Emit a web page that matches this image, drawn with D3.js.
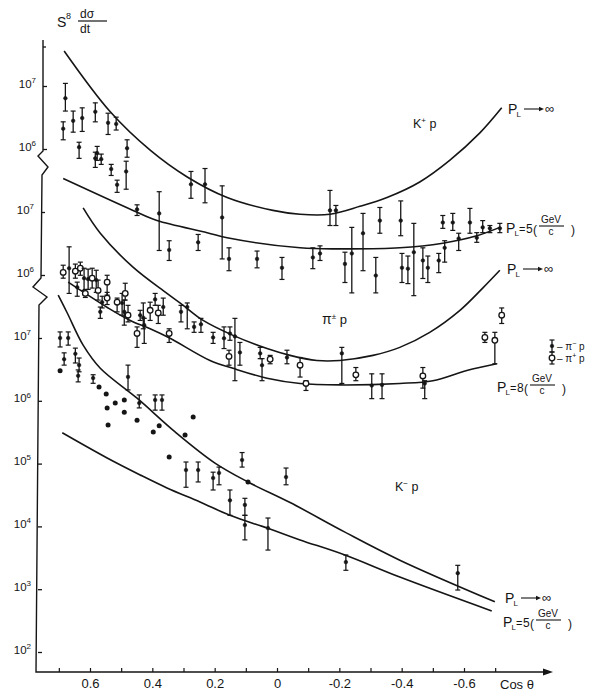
<!DOCTYPE html>
<html><head><meta charset="utf-8">
<script src="https://cdn.jsdelivr.net/npm/d3@7"></script>
<style>
body{margin:0;background:#fff;}
svg{display:block;font-family:"Liberation Sans",Arial,sans-serif;}
</style></head><body>
<svg id="chart" width="592" height="696"></svg>
<script>
// ---------- DATA (cos theta, S^8 dsigma/dt) ----------
const xMinorTicks = [0.7,0.6,0.5,0.4,0.3,0.2,0.1,0,-0.1,-0.2,-0.3,-0.4,-0.5,-0.6,-0.7];
const xTicks = [0.6,0.4,0.2,0,-0.2,-0.4,-0.6];
const xTickLabels = ["0.6","0.4","0.2","0","-0.2","-0.4","-0.6"];
const topTicks = [1e7,1e6];
const midTicks = [1e7,1e6];
const botTicks = [1e7,1e6,1e5,1e4,1e3,1e2];

// K+ p panel
const kpCurveInf = [[0.683,3.6e7],[0.535,3.9e6],[0.407,9.6e5],[0.288,3.6e5],[0.160,1.7e5],[0.013,1.06e5],[-0.074,9.2e4],[-0.170,9.2e4],[-0.266,1.23e5],[-0.353,1.7e5],[-0.458,3.0e5],[-0.554,6.6e5],[-0.651,1.8e6],[-0.721,4.5e6]];
const kpCurve5 = [[0.686,3.4e5],[0.462,1.06e5],[0.385,7.3e4],[0.224,4.7e4],[0.160,3.9e4],[-0.074,2.7e4],[-0.202,2.6e4],[-0.394,2.7e4],[-0.532,3.2e4],[-0.641,4.2e4],[-0.715,5.7e4]];
// [cos, value, low, high]
const kpData = [
[0.679,6.4e6,4.0e6,1.1e7],[0.686,2.1e6,1.4e6,2.7e6],[0.654,2.8e6,1.85e6,4.0e6],[0.625,3.1e6,1.9e6,4.5e6],
[0.583,3.9e6,2.7e6,5.4e6],[0.542,2.6e6,1.7e6,3.7e6],[0.516,2.5e6,2.0e6,3.2e6],[0.635,1.07e6,7.1e5,1.28e6],
[0.583,7.1e5,5.1e5,8.9e5],[0.577,8.6e5,6.6e5,1.1e6],[0.564,6.9e5,5.7e5,8.3e5],[0.481,1.03e6,7.4e5,1.4e6],
[0.532,4.8e5,3.8e5,5.7e5],[0.484,4.4e5,2.3e5,6.4e5],[0.513,2.7e5,2.05e5,3.2e5],[0.276,2.75e5,1.65e5,4.4e5],
[0.231,2.75e5,1.4e5,4.9e5],[0.176,8.2e4,1.8e4,2.6e5],[0.449,1.1e5,8.8e4,1.3e5],[0.378,9.5e4,2.45e4,2.1e5],
[0.346,2.5e4,1.7e4,3.5e4],[0.253,3.3e4,2.45e4,4.4e4],[0.154,1.8e4,1.17e4,2.7e4],[0.064,1.8e4,1.3e4,2.4e4],
[-0.016,1.3e4,8.5e3,1.9e4],[-0.115,1.9e4,1.26e4,2.7e4],[-0.138,2.2e4,1.7e4,2.9e4],[-0.170,1.06e5,6.1e4,2.2e5],
[-0.189,1.06e5,6.1e4,1.27e5],[-0.218,1.5e4,7.6e3,2.3e4],[-0.240,2.2e4,5.2e3,5.7e4],[-0.276,4.6e4,1.17e4,9.5e4],
[-0.317,9.8e3,5.2e3,1.9e4],[-0.330,7.3e4,4.6e4,1.18e5],[-0.397,7.3e4,4.2e4,1.5e5],[-0.401,1.3e4,7.6e3,2.2e4],
[-0.420,1.26e4,7.3e3,2.0e4],[-0.439,2.3e4,4.7e3,6.6e4],[-0.468,1.7e4,8.8e3,2.7e4],[-0.484,1.3e4,7.6e3,2.0e4],
[-0.519,1.7e4,1.09e4,2.2e4],[-0.538,2.7e4,1.6e4,3.5e4],[-0.532,6.8e4,5.5e4,8.8e4],[-0.564,6.8e4,5.1e4,9.5e4],
[-0.583,3.8e4,2.45e4,4.6e4],[-0.619,6.8e4,4.6e4,1.14e5],[-0.641,3.9e4,3.3e4,4.7e4],[-0.660,5.7e4,4.7e4,7.3e4],
[-0.683,5.5e4,4.7e4,6.1e4],[-0.715,5.5e4,4.7e4,6.6e4]];

// pi+- p panel
const piCurveInf = [[0.622,1.16e7],[0.567,4.6e6],[0.462,1.33e6],[0.353,5.1e5],[0.301,3.3e5],[0.237,1.9e5],[0.141,1.1e5],[0.032,6.8e4],[-0.042,5.3e4],[-0.128,4.4e4],[-0.202,4.4e4],[-0.308,5.3e4],[-0.394,7.1e4],[-0.490,1.23e5],[-0.587,2.75e5],[-0.660,6.2e5],[-0.715,1.19e6]];
const piCurve8 = [[0.670,7.7e5],[0.615,5.1e5],[0.542,3.0e5],[0.471,1.9e5],[0.407,1.4e5],[0.343,9.9e4],[0.215,4.4e4],[0.141,3.3e4],[0.032,2.3e4],[-0.074,1.9e4],[-0.202,1.8e4],[-0.394,1.9e4],[-0.500,2.1e4],[-0.609,3.05e4],[-0.705,3.9e4]];
// [cos, value, low, high, type]  m = pi- p, p = pi+ p
const piData = [
[0.686,1.1e6,8.9e5,1.43e6,"p"],[0.667,1.28e6,5.1e5,2.8e6,"m"],[0.647,1.15e6,8.9e5,1.49e6,"p"],[0.631,1.28e6,9.9e5,1.6e6,"p"],
[0.619,8.9e5,5.7e5,1.28e6,"m"],[0.606,8.6e5,5.9e5,1.24e6,"m"],[0.593,8.9e5,6.2e5,1.28e6,"p"],[0.580,8.3e5,5.3e5,1.19e6,"m"],
[0.615,5.1e5,4.4e5,5.9e5,"p"],[0.641,6.4e5,4.6e5,7.7e5,"m"],[0.574,5.7e5,4.0e5,8.3e5,"p"],[0.545,7.7e5,4.8e5,9.9e5,"p"],
[0.561,3.7e5,3.0e5,4.6e5,"m"],[0.567,2.6e5,2.05e5,3.1e5,"m"],[0.545,4.3e5,3.4e5,5.3e5,"p"],[0.513,3.7e5,2.6e5,4.3e5,"p"],
[0.497,3.6e5,2.3e5,5.1e5,"m"],[0.487,5.1e5,4.0e5,7.4e5,"p"],[0.490,2.6e5,1.6e5,4.0e5,"m"],[0.478,2.3e5,1.8e5,3.3e5,"p"],
[0.439,2.3e5,1.9e5,2.75e5,"m"],[0.429,2.1e5,1.4e5,3.6e5,"m"],[0.449,1.18e5,7.1e4,1.5e5,"p"],[0.426,1.6e5,8.2e4,2.05e5,"m"],
[0.407,2.75e5,1.9e5,3.7e5,"p"],[0.391,4.1e5,3.3e5,5.1e5,"m"],[0.381,2.5e5,1.7e5,3.3e5,"p"],[0.346,1.18e5,8.5e4,1.4e5,"p"],
[0.365,3.1e5,2.3e5,4.3e5,"m"],[0.308,2.6e5,1.8e5,3.3e5,"m"],[0.288,3.1e5,1.4e5,3.6e5,"m"],[0.266,1.5e5,1.23e5,1.8e5,"m"],
[0.244,1.65e5,1.23e5,2.05e5,"m"],[0.205,1.02e5,8.2e4,1.23e5,"m"],[0.170,9.9e4,6.8e4,1.5e5,"m"],[0.151,1.18e5,9.2e4,1.5e5,"m"],
[0.135,1.06e5,2.1e4,2.05e5,"m"],[0.154,5.1e4,3.7e4,6.4e4,"p"],[0.119,5.9e4,3.7e4,8.5e4,"m"],[0.054,5.7e4,4.7e4,7.1e4,"m"],
[0.048,3.7e4,2.1e4,4.7e4,"m"],[0.022,4.6e4,3.9e4,5.3e4,"p"],[-0.032,4.9e4,3.9e4,6.4e4,"m"],[-0.074,3.7e4,2.4e4,4.9e4,"p"],
[-0.093,1.9e4,1.47e4,2.1e4,"p"],[-0.208,5.7e4,1.9e4,7.1e4,"m"],[-0.253,2.6e4,2.1e4,3.4e4,"p"],[-0.304,1.76e4,1.09e4,2.7e4,"m"],
[-0.337,1.8e4,1.09e4,2.7e4,"m"],[-0.468,2.5e4,1.6e4,3.4e4,"p"],[-0.474,1.9e4,1.09e4,2.1e4,"m"],[-0.667,1.02e5,8.5e4,1.23e5,"p"],
[-0.699,9.2e4,3.9e4,1.23e5,"p"],[-0.721,2.3e5,1.7e5,3.0e5,"p"]];

// K- p panel
const kmCurveInf = [[0.702,4.8e7],[0.673,2.5e7],[0.622,7.7e6],[0.567,3.3e6],[0.449,1.1e6],[0.327,3.2e5],[0.199,1.02e5],[0.093,5.1e4],[-0.042,2.4e4],[-0.218,8.1e3],[-0.394,2.9e3],[-0.699,6.3e2]];
const kmCurve5 = [[0.689,3.1e5],[0.545,1.23e5],[0.439,6.6e4],[0.353,4.1e4],[0.247,2.45e4],[0.151,1.5e4],[0.032,9.4e3],[-0.074,6.1e3],[-0.218,3.5e3],[-0.394,1.56e3],[-0.689,4.5e2]];
const kmData = [
[0.696,1.0e7,7.2e6,1.25e7],[0.670,1.0e7,7.7e6,1.25e7],[0.683,4.6e6,3.7e6,5.8e6],[0.647,5.6e6,4.0e6,6.9e6],
[0.635,3.7e6,2.9e6,4.8e6],[0.638,2.5e6,2.0e6,3.1e6],[0.590,2.3e6,1.9e6,2.6e6],[0.478,2.4e6,1.49e6,3.7e6],
[0.442,9.2e5,7.7e5,1.24e6],[0.391,1.03e6,7.1e5,1.24e6],[0.369,1.03e6,7.1e5,1.24e6],[0.292,7.9e4,4.2e4,1.06e5],
[0.253,7.9e4,5.1e4,1.06e5],[0.205,5.9e4,3.8e4,7.3e4],[0.186,7.1e4,4.6e4,8.8e4],[0.112,1.14e5,8.8e4,1.5e5],
[-0.029,6.1e4,4.6e4,8.5e4],[0.151,2.6e4,1.5e4,3.8e4],[0.103,2.2e4,1.5e4,2.8e4],[0.103,1.05e4,6.1e3,1.5e4],
[0.029,9.4e3,4.2e3,1.36e4],[-0.221,2.7e3,2.0e3,3.5e3],[-0.580,1.8e3,9.7e2,2.4e3]];
const kmDots = [[0.696,3.0e6],[0.571,1.66e6],[0.548,1.28e6],[0.490,1.03e6],[0.519,9.2e5],[0.545,7.7e5],[0.490,6.6e5],
[0.542,4.1e5],[0.449,4.9e5],[0.397,3.2e5],[0.378,4.0e5],[0.346,1.27e5],[0.295,2.85e5],[0.269,5.5e5],[0.093,5.1e4]];

// ---------- DRAWING ----------
const ink = "#151515";
const FONT = "Liberation Sans, Arial, sans-serif";
const svg = d3.select("#chart");
const x = d3.scaleLinear().domain([0.6,-0.6]).range([90,464]);
const yTop = d3.scaleLog().domain([1e6,1e7]).range([149,86]);
const yMid = d3.scaleLog().domain([1e6,1e7]).range([275,212]);
const yBot = d3.scaleLog().domain([1e2,1e7]).range([652,338]);

// axis lines with breaks
svg.append("path")
  .attr("d","M43,40 L43,151 L38,156 L48,167 L42,175 L41,278 L33,287 L47,297 L39,305 L36,672 L546,672")
  .attr("fill","none").attr("stroke",ink).attr("stroke-width",1.4);
svg.append("path").attr("d","M553,672 L543,668.5 L543,675.5 Z").attr("fill",ink);
svg.append("line").attr("x1",43).attr("x2",46).attr("y1",47).attr("y2",47).attr("stroke",ink).attr("stroke-width",1.3);

function yAxis(scale, ticks, xpos){
  const g = svg.append("g").attr("transform",`translate(${xpos},0)`)
    .call(d3.axisLeft(scale).tickValues(ticks).tickSizeInner(-4).tickSizeOuter(0).tickPadding(7));
  g.attr("font-family",FONT);
  g.select(".domain").remove();
  g.selectAll(".tick line").attr("stroke",ink).attr("stroke-width",1.3);
  g.selectAll(".tick text").text(null).attr("font-size",11.5).attr("fill",ink).attr("dy","0.1em")
    .call(t=>{
      t.append("tspan").text("10");
      t.append("tspan").attr("font-size",8).attr("dy","-0.6em").text(d=>Math.round(Math.log10(d)));
    });
}
yAxis(yTop, topTicks, 43);
yAxis(yMid, midTicks, 41);
yAxis(yBot, botTicks, 38);

// x axis ticks & labels
const gx1 = svg.append("g").attr("transform","translate(0,672)")
  .call(d3.axisBottom(x).tickValues(xMinorTicks).tickSizeInner(-4).tickSizeOuter(0).tickFormat(""));
gx1.select(".domain").remove();
gx1.selectAll(".tick line").attr("stroke",ink).attr("stroke-width",1.2);
const gx2 = svg.append("g").attr("transform","translate(0,672)")
  .call(d3.axisBottom(x).tickValues(xTicks).tickSize(0).tickPadding(7).tickFormat((d,i)=>xTickLabels[i]));
gx2.attr("font-family",FONT);
gx2.select(".domain").remove();
gx2.selectAll(".tick text").attr("font-size",13).attr("fill",ink);
svg.append("text").attr("x",500).attr("y",689).attr("font-size",13).attr("fill",ink).text("Cos θ");

// curves
function curve(pts, yS){
  svg.append("path").datum(pts)
    .attr("d", d3.line().x(d=>x(d[0])).y(d=>yS(d[1])).curve(d3.curveCatmullRom.alpha(0.5)))
    .attr("fill","none").attr("stroke",ink).attr("stroke-width",1.6);
}
curve(kpCurveInf, yTop); curve(kpCurve5, yTop);
curve(piCurveInf, yMid); curve(piCurve8, yMid);
curve(kmCurveInf, yBot); curve(kmCurve5, yBot);

// error bars
function errBars(rows, yS, defType){
  const g = svg.append("g");
  const r = g.selectAll("g").data(rows).join("g");
  r.append("line").attr("x1",d=>x(d[0])).attr("x2",d=>x(d[0]))
    .attr("y1",d=>yS(d[2])).attr("y2",d=>yS(d[3])).attr("stroke",ink).attr("stroke-width",1.3);
  [2,3].forEach(k=>{
    r.append("line").attr("x1",d=>x(d[0])-2.5).attr("x2",d=>x(d[0])+2.5)
      .attr("y1",d=>yS(d[k])).attr("y2",d=>yS(d[k])).attr("stroke",ink).attr("stroke-width",1.2);
  });
  r.append("circle").attr("cx",d=>x(d[0])).attr("cy",d=>yS(d[1]))
    .attr("r",d=>(d[4]||defType)==="p"?2.8:1.8)
    .attr("fill",d=>(d[4]||defType)==="p"?"#fff":ink)
    .attr("stroke",ink).attr("stroke-width",d=>(d[4]||defType)==="p"?1.3:0.6);
}
errBars(kpData, yTop, "m");
errBars(piData, yMid, "m");
errBars(kmData, yBot, "m");
svg.append("g").selectAll("circle").data(kmDots).join("circle")
  .attr("cx",d=>x(d[0])).attr("cy",d=>yBot(d[1])).attr("r",2.5).attr("fill",ink);

// text helpers
function label(x0,y0,parts){
  const t = svg.append("text").attr("x",x0).attr("y",y0).attr("fill",ink).attr("font-family",FONT);
  parts.forEach(p=>{ t.append("tspan").attr("font-size",p.s).attr("dy",p.dy||0).text(p.t); });
  return t;
}
function txt(x0,y0,s,size,anchor){
  return svg.append("text").attr("x",x0).attr("y",y0).attr("font-size",size).attr("fill",ink)
    .attr("text-anchor",anchor||"start").text(s);
}
function plInf(x0,y0){
  txt(x0,y0,"P",14);
  txt(x0+8.5,y0+3,"L",8);
  const ay = y0-5;
  svg.append("line").attr("x1",x0+16).attr("x2",x0+33).attr("y1",ay).attr("y2",ay)
    .attr("stroke",ink).attr("stroke-width",1.1);
  svg.append("path").attr("d",`M${x0+36},${ay} L${x0+31},${ay-2.2} L${x0+31},${ay+2.2} Z`).attr("fill",ink);
  txt(x0+37,y0-1,"∞",13);
}
function plFrac(x0,y0,num){
  txt(x0,y0,"P",14);
  txt(x0+8.5,y0+3,"L",8);
  txt(x0+13,y0,"=",11);
  txt(x0+20,y0,num,12);
  txt(x0+27,y0+1,"(",12);
  txt(x0+45,y0-10,"GeV",10,"middle");
  svg.append("line").attr("x1",x0+33).attr("x2",x0+58).attr("y1",y0-7).attr("y2",y0-7)
    .attr("stroke",ink).attr("stroke-width",1.1);
  txt(x0+45,y0+2,"c",10,"middle");
  txt(x0+65,y0+1,")",12);
}

// y title
txt(57,27,"S",14); txt(66,19,"8",9);
txt(80,18,"dσ",12);
svg.append("line").attr("x1",78).attr("x2",107).attr("y1",21).attr("y2",21).attr("stroke",ink).attr("stroke-width",1.2);
txt(80,33,"dt",12);

// panel labels
label(413,128,[{t:"K",s:12.5},{t:"+",s:8,dy:-5},{t:" p",s:12.5,dy:5}]);
label(322,324,[{t:"π",s:14},{t:"±",s:8,dy:-5},{t:" p",s:13,dy:5}]);
label(395,491,[{t:"K",s:12.5},{t:"−",s:8,dy:-5},{t:" p",s:12.5,dy:5}]);

// curve labels
plInf(508,114);
plFrac(506,233,"5");
plInf(507,274);
plFrac(497,392,"8");
plInf(505,603);
plFrac(503,627,"5");

// legend
function legendSym(cx, cy, open){
  svg.append("line").attr("x1",cx).attr("x2",cx).attr("y1",cy-6).attr("y2",cy+6).attr("stroke",ink).attr("stroke-width",1.3);
  [cy-6,cy+6].forEach(yy=>svg.append("line").attr("x1",cx-2.5).attr("x2",cx+2.5).attr("y1",yy).attr("y2",yy).attr("stroke",ink).attr("stroke-width",1.2));
  svg.append("circle").attr("cx",cx).attr("cy",cy).attr("r",open?2.8:1.8).attr("fill",open?"#fff":ink).attr("stroke",ink).attr("stroke-width",open?1.3:0.6);
}
legendSym(552,346,false);
label(557,350,[{t:"– π",s:10},{t:"−",s:7,dy:-4},{t:" p",s:10,dy:4}]);
legendSym(552,358,true);
label(557,362,[{t:"– π",s:10},{t:"+",s:7,dy:-4},{t:" p",s:10,dy:4}]);
</script></body></html>
